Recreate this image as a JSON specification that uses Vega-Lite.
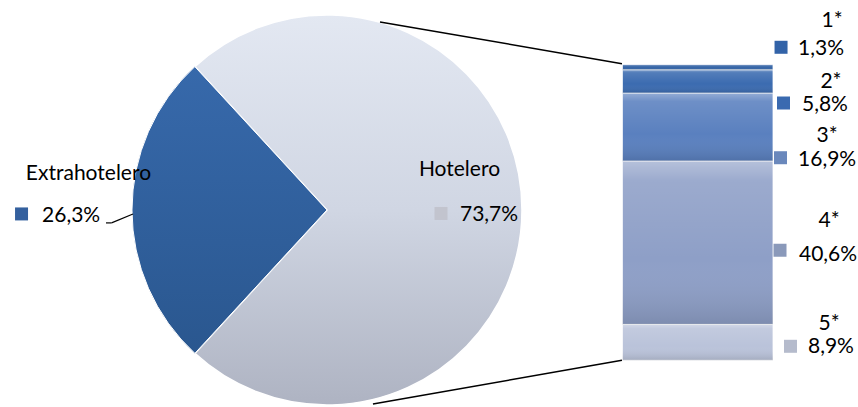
{
  "$schema": "https://vega.github.io/schema/vega-lite/v6.json",
  "width": 858,
  "height": 407,
  "autosize": {"type": "fit", "contains": "padding"},
  "padding": 0,
  "background": "#ffffff",
  "config": {
    "view": {"stroke": null},
    "axis": {"disable": true},
    "text": {"font": "Lato", "fontSize": 21, "color": "#000000", "baseline": "alphabetic"}
  },
  "datasets": {
    "pie": [
      {"segmento": "Extrahotelero", "value": 26.3},
      {"segmento": "Hotelero", "value": 73.7}
    ],
    "bar": [
      {"cat": "1*", "value": 1.3},
      {"cat": "2*", "value": 5.8},
      {"cat": "3*", "value": 16.9},
      {"cat": "4*", "value": 40.6},
      {"cat": "5*", "value": 8.9}
    ]
  },
  "layer": [
    {
      "data": {"name": "bar"},
      "transform": [
        {"stack": "value", "groupby": [], "sort": [{"field": "cat", "order": "descending"}], "as": ["b0", "b1"]}
      ],
      "mark": {"type": "rect", "stroke": "#ffffff", "strokeWidth": 1, "strokeOpacity": 0.7},
      "encoding": {
        "x": {"datum": 72.55, "type": "quantitative", "scale": {"domain": [0, 100], "nice": false, "zero": false}, "axis": null},
        "x2": {"datum": 90.09},
        "y": {"field": "b0", "type": "quantitative", "scale": {"domain": [-11.14, 89.59], "nice": false, "zero": false}, "axis": null},
        "y2": {"field": "b1"},
        "color": {
          "field": "cat", "type": "nominal", "legend": null,
          "scale": {"domain": ["1*", "2*", "3*", "4*", "5*"], "range": ["#3464A6", "#3B6BB0", "#5A80BF", "#8E9FC7", "#BAC3DA"]}
        }
      }
    },
    {
      "data": {"name": "bar"},
      "transform": [
        {"stack": "value", "groupby": [], "sort": [{"field": "cat", "order": "descending"}], "as": ["b0", "b1"]}
      ],
      "mark": {
        "type": "rect",
        "fill": {
          "gradient": "linear", "x1": 0, "y1": 0, "x2": 0, "y2": 1,
          "stops": [
            {"offset": 0, "color": "rgba(255,255,255,0.35)"},
            {"offset": 0.12, "color": "rgba(255,255,255,0.12)"},
            {"offset": 0.6, "color": "rgba(255,255,255,0)"},
            {"offset": 1, "color": "rgba(0,0,0,0.12)"}
          ]
        }
      },
      "encoding": {
        "x": {"datum": 72.55, "type": "quantitative"},
        "x2": {"datum": 90.09},
        "y": {"field": "b0", "type": "quantitative"},
        "y2": {"field": "b1"}
      }
    },
    {
      "data": {"name": "pie"},
      "transform": [
        {"stack": "value", "groupby": [], "sort": [{"field": "value", "order": "ascending"}], "as": ["t0", "t1"]},
        {"filter": "datum.segmento === 'Hotelero'"}
      ],
      "mark": {
        "type": "arc", "radius": 195, "stroke": "#ffffff", "strokeWidth": 1.5,
        "fill": {
          "gradient": "linear", "x1": 0, "y1": 0, "x2": 0, "y2": 1,
          "stops": [
            {"offset": 0, "color": "#E3E8F2"},
            {"offset": 0.5, "color": "#D0D6E3"},
            {"offset": 1, "color": "#AEB3C2"}
          ]
        }
      },
      "encoding": {
        "x": {"datum": 38.11, "type": "quantitative"},
        "y": {"datum": 37.37, "type": "quantitative"},
        "theta": {"field": "t0", "type": "quantitative", "scale": {"domain": [0, 100], "range": [3.886, 10.169]}},
        "theta2": {"field": "t1"}
      }
    },
    {
      "data": {"name": "pie"},
      "transform": [
        {"stack": "value", "groupby": [], "sort": [{"field": "value", "order": "ascending"}], "as": ["t0", "t1"]},
        {"filter": "datum.segmento === 'Extrahotelero'"}
      ],
      "mark": {
        "type": "arc", "radius": 195, "stroke": "#ffffff", "strokeWidth": 1,
        "fill": {
          "gradient": "linear", "x1": 0, "y1": 0, "x2": 0, "y2": 1,
          "stops": [
            {"offset": 0, "color": "#3769AB"},
            {"offset": 1, "color": "#2A578F"}
          ]
        }
      },
      "encoding": {
        "x": {"datum": 38.11, "type": "quantitative"},
        "y": {"datum": 37.37, "type": "quantitative"},
        "theta": {"field": "t0", "type": "quantitative"},
        "theta2": {"field": "t1"}
      }
    },
    {
      "data": {"name": "pie"},
      "transform": [{"filter": "datum.segmento === 'Hotelero'"}],
      "layer": [
        {
          "mark": {"type": "rule", "color": "#000000", "strokeWidth": 1.5},
          "encoding": {"x": {"datum": 44.29}, "x2": {"datum": 72.49}, "y": {"datum": 84.14}, "y2": {"datum": 73.75}}
        },
        {
          "mark": {"type": "rule", "color": "#000000", "strokeWidth": 1.5},
          "encoding": {"x": {"datum": 43.47}, "x2": {"datum": 72.49}, "y": {"datum": -10.89}, "y2": {"datum": 0}}
        }
      ]
    },
    {
      "data": {"name": "pie"},
      "transform": [
        {"calculate": "replace(format(datum.value, '.1f'), '.', ',') + '%'", "as": "etiqueta"},
        {"filter": "datum.segmento === 'Extrahotelero'"}
      ],
      "layer": [
        {
          "mark": {"type": "text", "align": "center"},
          "encoding": {"x": {"datum": 10.31}, "y": {"datum": 44.79}, "text": {"field": "segmento"}}
        },
        {
          "mark": {"type": "point", "shape": "square", "filled": true, "size": 169, "color": "#34609E", "opacity": 1},
          "encoding": {"x": {"datum": 2.51}, "y": {"datum": 36.38}}
        },
        {
          "mark": {"type": "text", "align": "left"},
          "encoding": {"x": {"datum": 4.9}, "y": {"datum": 34.4}, "text": {"field": "etiqueta"}}
        },
        {
          "mark": {"type": "rule", "color": "#000000", "strokeWidth": 1.2},
          "encoding": {"x": {"datum": 12.35}, "x2": {"datum": 13.0}, "y": {"datum": 34.15}, "y2": {"datum": 34.15}}
        },
        {
          "mark": {"type": "rule", "color": "#000000", "strokeWidth": 1.2},
          "encoding": {"x": {"datum": 13.0}, "x2": {"datum": 15.5}, "y": {"datum": 34.15}, "y2": {"datum": 36.38}}
        }
      ]
    },
    {
      "data": {"name": "pie"},
      "transform": [
        {"calculate": "replace(format(datum.value, '.1f'), '.', ',') + '%'", "as": "etiqueta"},
        {"filter": "datum.segmento === 'Hotelero'"}
      ],
      "layer": [
        {
          "mark": {"type": "text", "align": "center"},
          "encoding": {"x": {"datum": 53.55}, "y": {"datum": 45.78}, "text": {"field": "segmento"}}
        },
        {
          "mark": {"type": "point", "shape": "square", "filled": true, "size": 169, "color": "#C2C4CE", "opacity": 1},
          "encoding": {"x": {"datum": 51.4}, "y": {"datum": 36.5}}
        },
        {
          "mark": {"type": "text", "align": "left"},
          "encoding": {"x": {"datum": 53.61}, "y": {"datum": 34.65}, "text": {"field": "etiqueta"}}
        }
      ]
    },
    {
      "data": {"name": "bar"},
      "transform": [
        {"calculate": "replace(format(datum.value, '.1f'), '.', ',') + '%'", "as": "etiqueta"},
        {"filter": "datum.cat === '1*'"}
      ],
      "layer": [
        {"mark": {"type": "text", "align": "center"}, "encoding": {"x": {"datum": 96.97}, "y": {"datum": 82.9}, "text": {"field": "cat"}}},
        {"mark": {"type": "point", "shape": "square", "filled": true, "size": 169, "color": "#3263A8", "opacity": 1}, "encoding": {"x": {"datum": 91.03}, "y": {"datum": 77.83}}},
        {"mark": {"type": "text", "align": "left"}, "encoding": {"x": {"datum": 93.01}, "y": {"datum": 75.98}, "text": {"field": "etiqueta"}}}
      ]
    },
    {
      "data": {"name": "bar"},
      "transform": [
        {"calculate": "replace(format(datum.value, '.1f'), '.', ',') + '%'", "as": "etiqueta"},
        {"filter": "datum.cat === '2*'"}
      ],
      "layer": [
        {"mark": {"type": "text", "align": "center"}, "encoding": {"x": {"datum": 96.85}, "y": {"datum": 67.81}, "text": {"field": "cat"}}},
        {"mark": {"type": "point", "shape": "square", "filled": true, "size": 169, "color": "#3A6AB0", "opacity": 1}, "encoding": {"x": {"datum": 91.32}, "y": {"datum": 63.97}}},
        {"mark": {"type": "text", "align": "left"}, "encoding": {"x": {"datum": 93.47}, "y": {"datum": 61.87}, "text": {"field": "etiqueta"}}}
      ]
    },
    {
      "data": {"name": "bar"},
      "transform": [
        {"calculate": "replace(format(datum.value, '.1f'), '.', ',') + '%'", "as": "etiqueta"},
        {"filter": "datum.cat === '3*'"}
      ],
      "layer": [
        {"mark": {"type": "text", "align": "center"}, "encoding": {"x": {"datum": 96.39}, "y": {"datum": 54.2}, "text": {"field": "cat"}}},
        {"mark": {"type": "point", "shape": "square", "filled": true, "size": 169, "color": "#6A88BC", "opacity": 1}, "encoding": {"x": {"datum": 90.97}, "y": {"datum": 50.36}}},
        {"mark": {"type": "text", "align": "left"}, "encoding": {"x": {"datum": 93.01}, "y": {"datum": 48.26}, "text": {"field": "etiqueta"}}}
      ]
    },
    {
      "data": {"name": "bar"},
      "transform": [
        {"calculate": "replace(format(datum.value, '.1f'), '.', ',') + '%'", "as": "etiqueta"},
        {"filter": "datum.cat === '4*'"}
      ],
      "layer": [
        {"mark": {"type": "text", "align": "center"}, "encoding": {"x": {"datum": 96.62}, "y": {"datum": 33.16}, "text": {"field": "cat"}}},
        {"mark": {"type": "point", "shape": "square", "filled": true, "size": 169, "color": "#8A99BA", "opacity": 1}, "encoding": {"x": {"datum": 90.91}, "y": {"datum": 27.35}}},
        {"mark": {"type": "text", "align": "left"}, "encoding": {"x": {"datum": 93.12}, "y": {"datum": 24.75}, "text": {"field": "etiqueta"}}}
      ]
    },
    {
      "data": {"name": "bar"},
      "transform": [
        {"calculate": "replace(format(datum.value, '.1f'), '.', ',') + '%'", "as": "etiqueta"},
        {"filter": "datum.cat === '5*'"}
      ],
      "layer": [
        {"mark": {"type": "text", "align": "center"}, "encoding": {"x": {"datum": 96.62}, "y": {"datum": 7.42}, "text": {"field": "cat"}}},
        {"mark": {"type": "point", "shape": "square", "filled": true, "size": 169, "color": "#B5BBCC", "opacity": 1}, "encoding": {"x": {"datum": 92.13}, "y": {"datum": 3.46}}},
        {"mark": {"type": "text", "align": "left"}, "encoding": {"x": {"datum": 94.17}, "y": {"datum": 1.73}, "text": {"field": "etiqueta"}}}
      ]
    }
  ]
}
